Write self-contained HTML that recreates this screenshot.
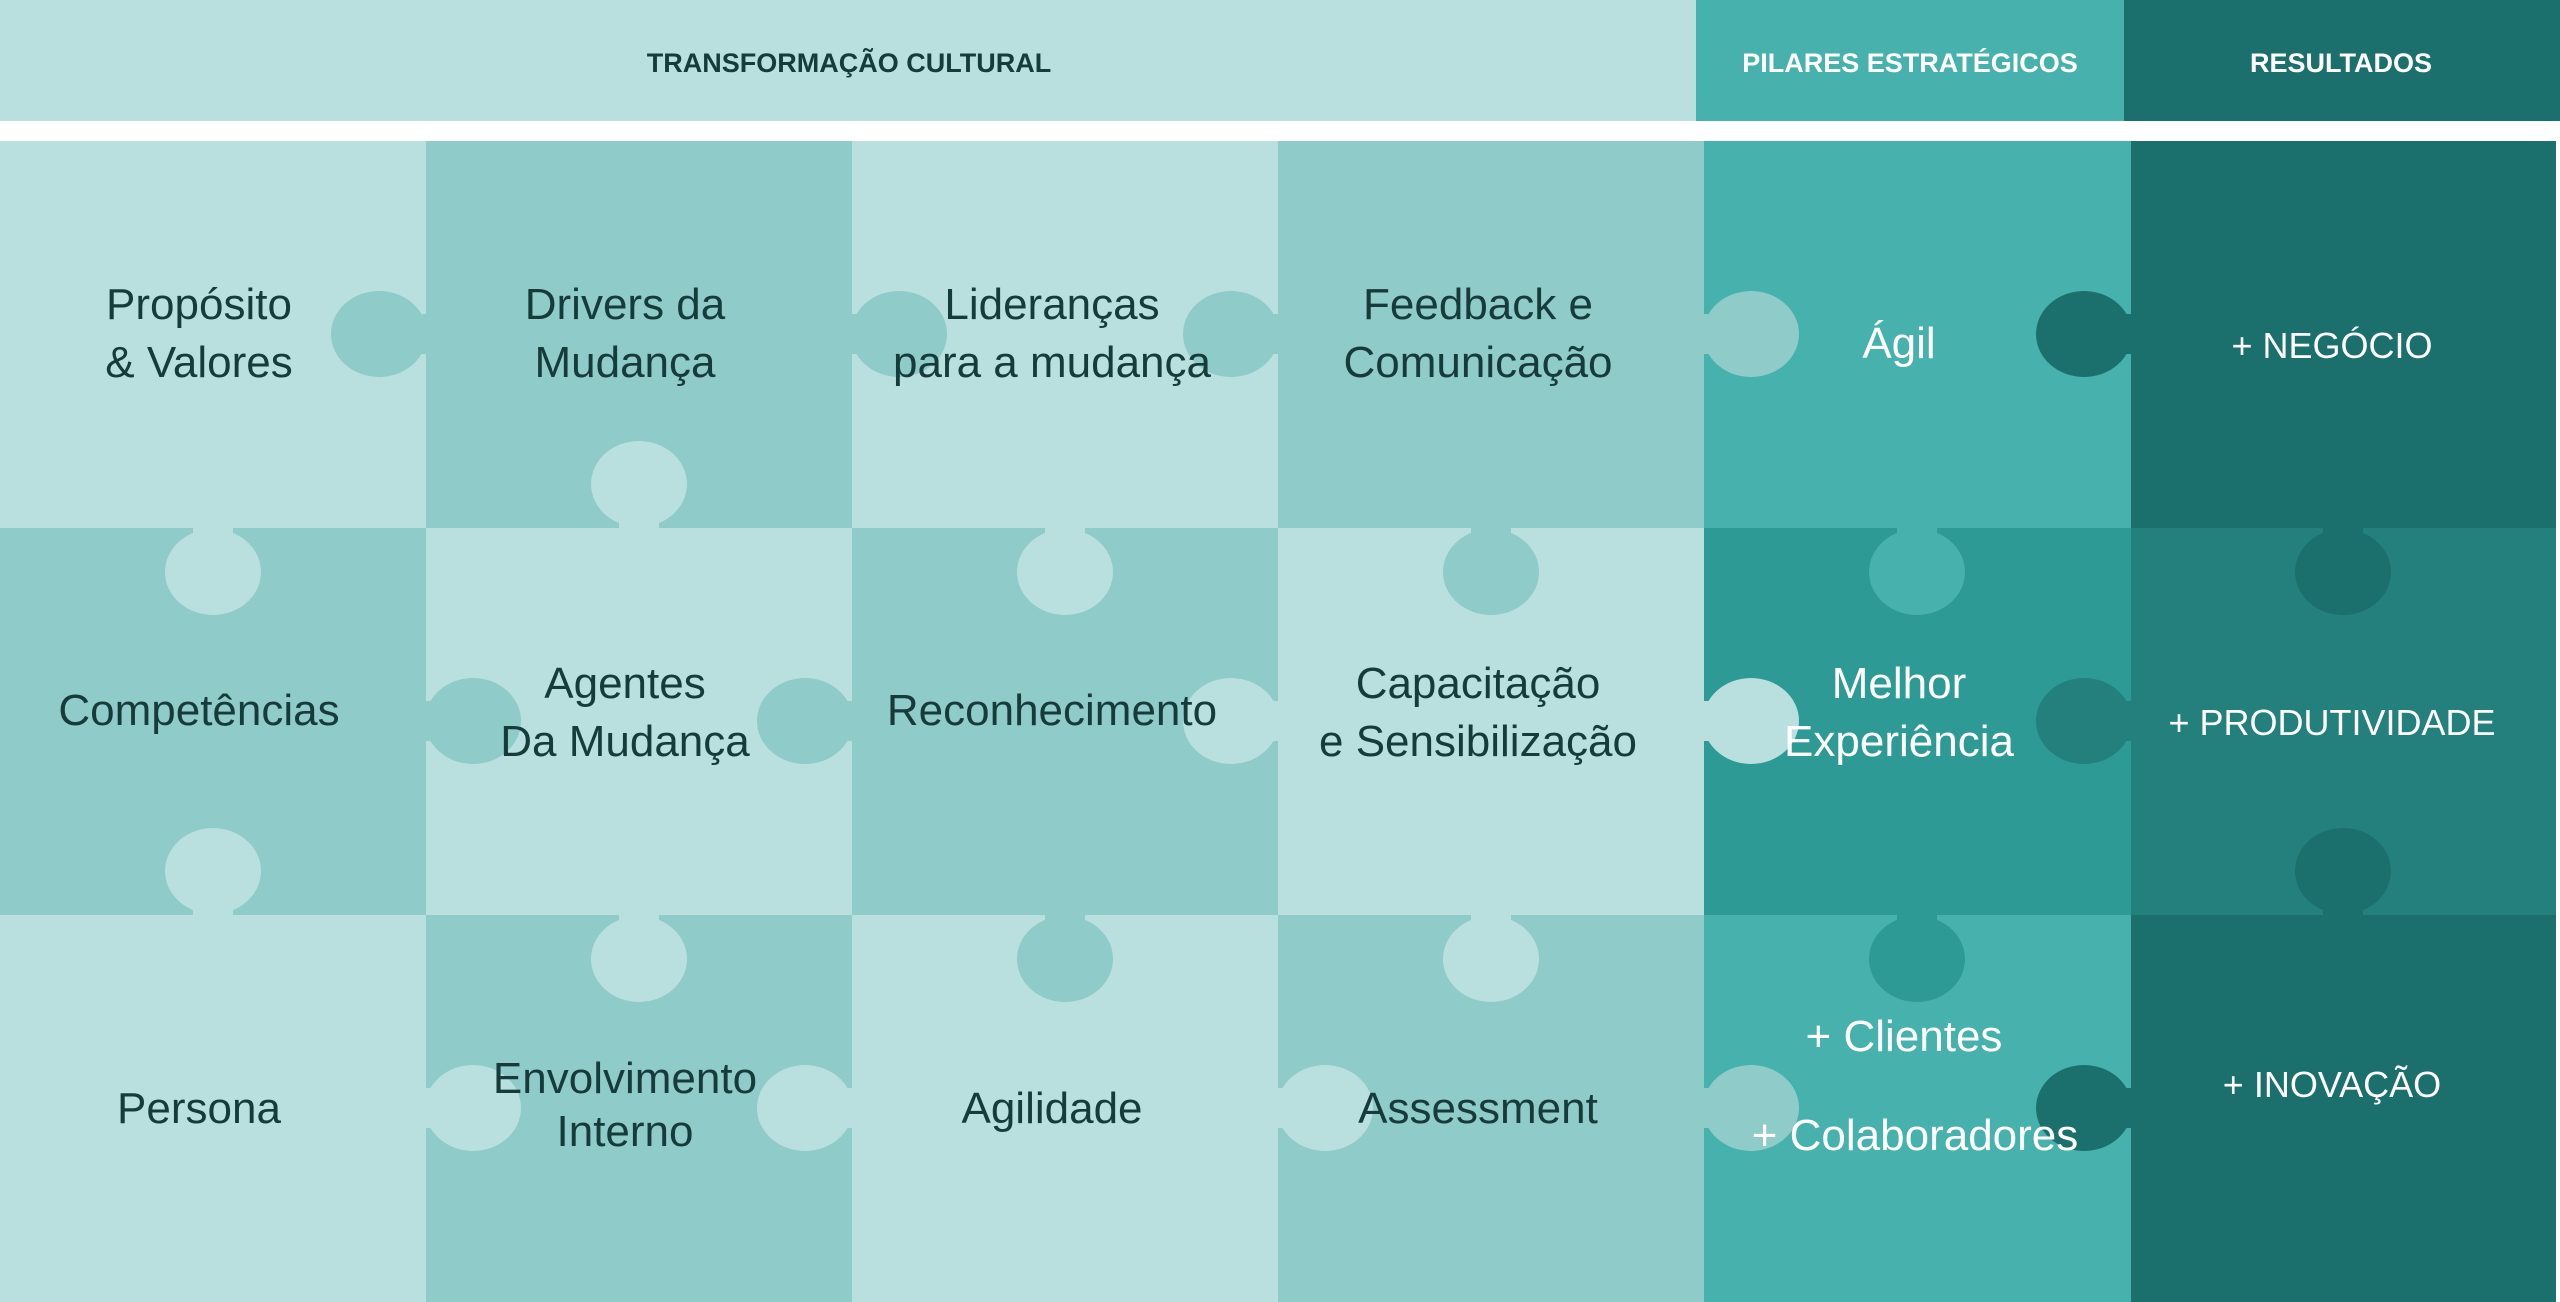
<!DOCTYPE html>
<html><head><meta charset="utf-8"><style>
html,body{margin:0;padding:0;background:#fff;}
svg{display:block}
.t{font-family:"Liberation Sans",sans-serif;font-size:44px;fill:#173b3b;text-anchor:middle}
.w{font-family:"Liberation Sans",sans-serif;font-size:44px;fill:#fff;text-anchor:middle}
.c{font-family:"Liberation Sans",sans-serif;font-size:36px;fill:#fff;text-anchor:middle}
.h{font-family:"Liberation Sans",sans-serif;font-size:27px;font-weight:bold;text-anchor:middle}
</style></head><body>
<svg width="2560" height="1302" viewBox="0 0 2560 1302" xmlns="http://www.w3.org/2000/svg">
<rect width="2560" height="1302" fill="#fff"/>
<rect x="0" y="0" width="1696" height="121" fill="#b9dfde"/>
<rect x="1696" y="0" width="428" height="121" fill="#47b1ad"/>
<rect x="2124" y="0" width="436" height="121" fill="#1b6f6c"/>
<text class="h" x="849" y="72" fill="#173b3b">TRANSFORMAÇÃO CULTURAL</text>
<text class="h" x="1910" y="72" fill="#fff">PILARES ESTRATÉGICOS</text>
<text class="h" x="2341" y="72" fill="#fff">RESULTADOS</text>
<g>
<rect x="0" y="141" width="426" height="387" fill="#b9dfde"/>
<rect x="426" y="141" width="426" height="387" fill="#8fcbc9"/>
<rect x="852" y="141" width="426" height="387" fill="#b9dfde"/>
<rect x="1278" y="141" width="426" height="387" fill="#8fcbc9"/>
<rect x="1704" y="141" width="427" height="387" fill="#47b1ad"/>
<rect x="2131" y="141" width="425" height="387" fill="#1b6f6c"/>
<rect x="0" y="528" width="426" height="387" fill="#8fcbc9"/>
<rect x="426" y="528" width="426" height="387" fill="#b9dfde"/>
<rect x="852" y="528" width="426" height="387" fill="#8fcbc9"/>
<rect x="1278" y="528" width="426" height="387" fill="#b9dfde"/>
<rect x="1704" y="528" width="427" height="387" fill="#2e9a96"/>
<rect x="2131" y="528" width="425" height="387" fill="#24807c"/>
<rect x="0" y="915" width="426" height="387" fill="#b9dfde"/>
<rect x="426" y="915" width="426" height="387" fill="#8fcbc9"/>
<rect x="852" y="915" width="426" height="387" fill="#b9dfde"/>
<rect x="1278" y="915" width="426" height="387" fill="#8fcbc9"/>
<rect x="1704" y="915" width="427" height="387" fill="#47b1ad"/>
<rect x="2131" y="915" width="425" height="387" fill="#1b6f6c"/>
</g>
<g>
<g fill="#8fcbc9"><ellipse cx="379" cy="334" rx="48" ry="43"/><rect x="415" y="314" width="12" height="40"/></g>
<g fill="#8fcbc9"><ellipse cx="899" cy="334" rx="48" ry="43"/><rect x="851" y="314" width="12" height="40"/></g>
<g fill="#8fcbc9"><ellipse cx="1231" cy="334" rx="48" ry="43"/><rect x="1267" y="314" width="12" height="40"/></g>
<g fill="#8fcbc9"><ellipse cx="1751" cy="334" rx="48" ry="43"/><rect x="1703" y="314" width="12" height="40"/></g>
<g fill="#1b6f6c"><ellipse cx="2084" cy="334" rx="48" ry="43"/><rect x="2120" y="314" width="12" height="40"/></g>
<g fill="#8fcbc9"><ellipse cx="473" cy="721" rx="48" ry="43"/><rect x="425" y="701" width="12" height="40"/></g>
<g fill="#8fcbc9"><ellipse cx="805" cy="721" rx="48" ry="43"/><rect x="841" y="701" width="12" height="40"/></g>
<g fill="#b9dfde"><ellipse cx="1231" cy="721" rx="48" ry="43"/><rect x="1267" y="701" width="12" height="40"/></g>
<g fill="#b9dfde"><ellipse cx="1751" cy="721" rx="48" ry="43"/><rect x="1703" y="701" width="12" height="40"/></g>
<g fill="#24807c"><ellipse cx="2084" cy="721" rx="48" ry="43"/><rect x="2120" y="701" width="12" height="40"/></g>
<g fill="#b9dfde"><ellipse cx="473" cy="1108" rx="48" ry="43"/><rect x="425" y="1088" width="12" height="40"/></g>
<g fill="#b9dfde"><ellipse cx="805" cy="1108" rx="48" ry="43"/><rect x="841" y="1088" width="12" height="40"/></g>
<g fill="#b9dfde"><ellipse cx="1325" cy="1108" rx="48" ry="43"/><rect x="1277" y="1088" width="12" height="40"/></g>
<g fill="#8fcbc9"><ellipse cx="1751" cy="1108" rx="48" ry="43"/><rect x="1703" y="1088" width="12" height="40"/></g>
<g fill="#1b6f6c"><ellipse cx="2084" cy="1108" rx="48" ry="43"/><rect x="2120" y="1088" width="12" height="40"/></g>
</g>
<g>
<g fill="#b9dfde"><ellipse cx="213" cy="572" rx="48" ry="43"/><rect x="193" y="527" width="40" height="12"/></g>
<g fill="#b9dfde"><ellipse cx="639" cy="484" rx="48" ry="43"/><rect x="619" y="517" width="40" height="12"/></g>
<g fill="#b9dfde"><ellipse cx="1065" cy="572" rx="48" ry="43"/><rect x="1045" y="527" width="40" height="12"/></g>
<g fill="#8fcbc9"><ellipse cx="1491" cy="572" rx="48" ry="43"/><rect x="1471" y="527" width="40" height="12"/></g>
<g fill="#47b1ad"><ellipse cx="1917" cy="572" rx="48" ry="43"/><rect x="1897" y="527" width="40" height="12"/></g>
<g fill="#1b6f6c"><ellipse cx="2343" cy="572" rx="48" ry="43"/><rect x="2323" y="527" width="40" height="12"/></g>
<g fill="#b9dfde"><ellipse cx="213" cy="871" rx="48" ry="43"/><rect x="193" y="904" width="40" height="12"/></g>
<g fill="#b9dfde"><ellipse cx="639" cy="959" rx="48" ry="43"/><rect x="619" y="914" width="40" height="12"/></g>
<g fill="#8fcbc9"><ellipse cx="1065" cy="959" rx="48" ry="43"/><rect x="1045" y="914" width="40" height="12"/></g>
<g fill="#b9dfde"><ellipse cx="1491" cy="959" rx="48" ry="43"/><rect x="1471" y="914" width="40" height="12"/></g>
<g fill="#2e9a96"><ellipse cx="1917" cy="959" rx="48" ry="43"/><rect x="1897" y="914" width="40" height="12"/></g>
<g fill="#1b6f6c"><ellipse cx="2343" cy="871" rx="48" ry="43"/><rect x="2323" y="904" width="40" height="12"/></g>
</g>
<text class="t" x="199" y="319">Propósito</text>
<text class="t" x="199" y="377">&amp; Valores</text>
<text class="t" x="625" y="319">Drivers da</text>
<text class="t" x="625" y="377">Mudança</text>
<text class="t" x="1052" y="319">Lideranças</text>
<text class="t" x="1052" y="377">para a mudança</text>
<text class="t" x="1478" y="319">Feedback e</text>
<text class="t" x="1478" y="377">Comunicação</text>
<text class="w" x="1899" y="358">Ágil</text>
<text class="c" x="2332" y="358">+ NEGÓCIO</text>
<text class="t" x="199" y="725">Competências</text>
<text class="t" x="625" y="698">Agentes</text>
<text class="t" x="625" y="756">Da Mudança</text>
<text class="t" x="1052" y="725">Reconhecimento</text>
<text class="t" x="1478" y="698">Capacitação</text>
<text class="t" x="1478" y="756">e Sensibilização</text>
<text class="w" x="1899" y="698">Melhor</text>
<text class="w" x="1899" y="756">Experiência</text>
<text class="c" x="2332" y="735">+ PRODUTIVIDADE</text>
<text class="t" x="199" y="1123">Persona</text>
<text class="t" x="625" y="1093">Envolvimento</text>
<text class="t" x="625" y="1146">Interno</text>
<text class="t" x="1052" y="1123">Agilidade</text>
<text class="t" x="1478" y="1123">Assessment</text>
<text class="w" x="1904" y="1051">+ Clientes</text>
<text class="w" x="1915" y="1150">+ Colaboradores</text>
<text class="c" x="2332" y="1097">+ INOVAÇÃO</text>
</svg>
</body></html>
